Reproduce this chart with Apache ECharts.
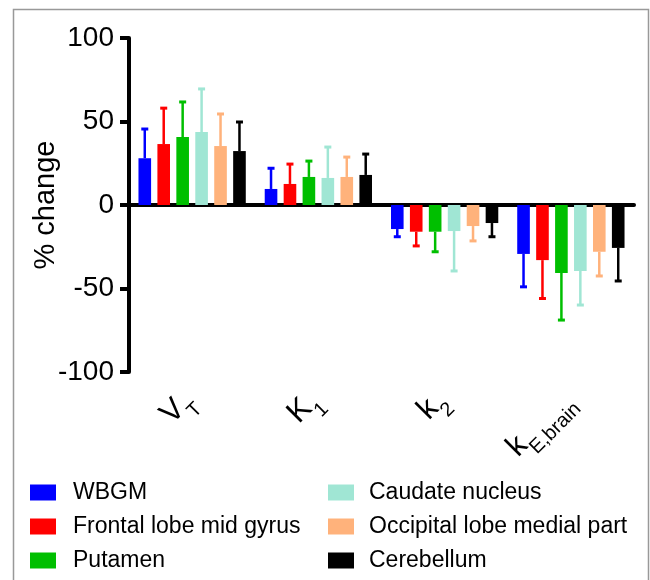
<!DOCTYPE html>
<html>
<head>
<meta charset="utf-8">
<script src="https://cdn.jsdelivr.net/npm/echarts@6/dist/echarts.min.js"></script>
<style>
html,body{margin:0;padding:0;background:#fff;}
#chart{width:650px;height:580px;}
</style>
</head>
<body>
<div id="chart"></div>
<script>
// Categories (main symbol + subscript)
var catMain = ['V', 'K', 'k', 'k'];
var catSub = ['T', '1', '2', 'E,brain'];

// Series names
var seriesNames = ['WBGM', 'Frontal lobe mid gyrus', 'Putamen', 'Caudate nucleus', 'Occipital lobe medial part', 'Cerebellum'];

// Mean % change per category [VT, K1, k2, kE,brain]
var wbgm      = [28, 9.6, -14.4, -29.3];
var frontal   = [36.5, 12.6, -16, -33];
var putamen   = [40.7, 16.8, -16, -40.7];
var caudate   = [43.7, 16.2, -15.6, -39.5];
var occipital = [35.3, 16.8, -12.6, -28];
var cerebellum= [32.3, 18, -10.8, -25.7];

// Error bar end (mean +/- SD, drawn away from zero)
var wbgmErr      = [45.5, 22, -19, -49];
var frontalErr   = [58, 24.5, -24.5, -56];
var putamenErr   = [61.7, 26.3, -28, -68.9];
var caudateErr   = [69.5, 34.7, -39.5, -59.9];
var occipitalErr = [54.5, 28.7, -21.5, -42.5];
var cerebellumErr= [49.7, 30.5, -19, -45.5];

// Y ticks
var yMin = -100, yMax = 100, yStep = 50;

var colors = ['#0000ff', '#ff0000', '#00bf00', '#a0e6d4', '#ffb27b', '#000000'];
var means = [wbgm, frontal, putamen, caudate, occipital, cerebellum];
var errs = [wbgmErr, frontalErr, putamenErr, caudateErr, occipitalErr, cerebellumErr];

var cats = catMain.map(function (m, i) { return m + '_' + catSub[i]; });
var FONT = 'Liberation Sans, Arial, sans-serif';
var catGap = 0.15, barGapRatio = 0.5, nSeries = 6;

var series = [];
means.forEach(function (vals, i) {
  series.push({
    name: seriesNames[i],
    type: 'bar',
    xAxisIndex: 0,
    data: vals,
    barGap: '50%',
    barCategoryGap: '15%',
    itemStyle: { color: colors[i] },
    emphasis: { disabled: true }
  });
});
errs.forEach(function (ev, i) {
  series.push({
    name: seriesNames[i] + ' err',
    type: 'custom',
    xAxisIndex: 0,
    z: 3,
    silent: true,
    data: ev.map(function (e, j) { return [j, means[i][j], e]; }),
    encode: { x: 0, y: [1, 2] },
    renderItem: function (params, api) {
      var j = api.value(0);
      var p0 = api.coord([j, api.value(1)]);
      var p1 = api.coord([j, api.value(2)]);
      var catW = api.size([1, 0])[0];
      var bw = catW * (1 - catGap) / (nSeries + (nSeries - 1) * barGapRatio);
      var x = p0[0] + (i - (nSeries - 1) / 2) * bw * (1 + barGapRatio);
      var cap = 3.5;
      return {
        type: 'group',
        children: [
          { type: 'line', shape: { x1: x, y1: p0[1], x2: x, y2: p1[1] }, style: { stroke: colors[i], lineWidth: 2.5 } },
          { type: 'line', shape: { x1: x - cap, y1: p1[1], x2: x + cap, y2: p1[1] }, style: { stroke: colors[i], lineWidth: 3 } }
        ]
      };
    }
  });
});

var legendText = { fontSize: 23, color: '#000', fontFamily: FONT, padding: [0, 0, 0, 12] };

var option = {
  animation: false,
  backgroundColor: '#fff',
  graphic: [{
    type: 'rect',
    shape: { x: 13.5, y: 9.5, width: 635, height: 620 },
    style: { fill: 'none', stroke: '#999', lineWidth: 1.5 },
    z: -10
  }],
  grid: { left: 129, right: 16, top: 38, bottom: 208, containLabel: false },
  legend: [{
    data: seriesNames.slice(0, 3),
    orient: 'vertical',
    left: 30, top: 481, padding: 0,
    itemWidth: 26, itemHeight: 16, itemGap: 11,
    icon: 'rect',
    textStyle: legendText
  }, {
    data: seriesNames.slice(3, 6),
    orient: 'vertical',
    left: 328, top: 481, padding: 0,
    itemWidth: 26, itemHeight: 16, itemGap: 11,
    icon: 'rect',
    textStyle: { fontSize: 23, color: '#000', fontFamily: FONT, padding: [0, 0, 0, 10] }
  }],
  xAxis: [{
    type: 'category',
    data: cats,
    axisLine: { onZero: true, lineStyle: { color: '#000', width: 4 } },
    axisTick: { show: false },
    axisLabel: { show: false },
    splitLine: { show: false }
  }, {
    type: 'category',
    data: cats,
    position: 'bottom',
    axisLine: { show: false, onZero: false },
    axisTick: { show: false },
    splitLine: { show: false },
    axisLabel: {
      rotate: 45,
      margin: 27,
      formatter: function (v, idx) {
        return '{m|' + catMain[idx] + '}{s|' + catSub[idx] + '}';
      },
      rich: {
        m: { fontSize: 31, fontFamily: FONT, color: '#000', lineHeight: 40, verticalAlign: 'top' },
        s: { fontSize: 20, fontFamily: FONT, color: '#000', lineHeight: 20, verticalAlign: 'bottom' }
      }
    }
  }],
  yAxis: {
    type: 'value',
    min: yMin, max: yMax, interval: yStep,
    name: '% change',
    nameLocation: 'middle',
    nameGap: 69,
    nameRotate: 90,
    nameMoveOverlap: false,
    nameTextStyle: { fontSize: 29, color: '#000', fontFamily: FONT },
    axisLine: { show: true, lineStyle: { color: '#000', width: 4 } },
    axisTick: { show: true, length: 9, lineStyle: { color: '#000', width: 4 } },
    axisLabel: { fontSize: 28, color: '#000', fontFamily: FONT, margin: 15 },
    splitLine: { show: false }
  },
  series: series
};

var chart = echarts.init(document.getElementById('chart'), null, { renderer: 'canvas' });
chart.setOption(option);
</script>
</body>
</html>
